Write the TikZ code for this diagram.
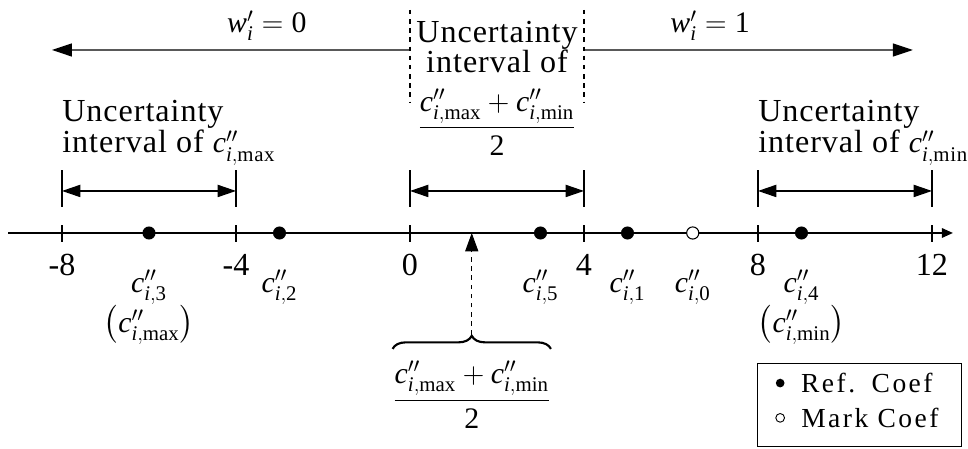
\documentclass[tikz,border=0pt]{standalone}
\usepackage{fix-cm}
\usepackage{amsmath}
\usepackage{fontspec}
\setmainfont{Liberation Serif}
\newfontfamily\notefont[LetterSpace=3]{Liberation Serif}
\newfontfamily\legfont[LetterSpace=9]{Liberation Serif}
\usetikzlibrary{arrows.meta, positioning, decorations.pathreplacing}
\newcommand{\cpp}[1]{\mathit{c}''_{\mathit{i},\text{#1}}}
\newcommand{\wpr}{\mathit{w}'_{\mathit{i}}}
\newcommand{\mth}[1]{{\fontsize{19.5}{20}\selectfont$#1$}}

\begin{document}
\begin{tikzpicture}[
        every node/.style={font=\fontsize{21}{22}\selectfont},
        axis/.style={-{Triangle[length=0.25cm, width=0.22cm]}, line width=0.8pt},
        tick/.style={line width=1.1pt},
        bar/.style={line width=1.1pt},
        span/.style={{Triangle[length=0.42cm, width=0.28cm]}-{Triangle[length=0.42cm, width=0.28cm]}, line width=0.8pt},
        side/.style={-{Triangle[length=0.46cm, width=0.3cm]}, line width=0.8pt},
        guide/.style={dashed, line width=0.7pt},
        refdot/.style={circle, fill, inner sep=0pt, minimum size=0.3cm},
        markdot/.style={circle, draw, fill=white, inner sep=0pt, minimum size=0.28cm, line width=0.7pt},
        coef/.style={anchor=base},
        note/.style={align=left, anchor=base west, inner sep=0pt, font=\notefont\fontsize{21}{17.6}\selectfont},
        brace/.style={decorate, decoration={brace, amplitude=0.3cm}, line width=1.4pt},
        legkey/.style={circle, inner sep=0pt, minimum size=0.2cm},
        legtext/.style={font=\legfont\fontsize{18}{19}\selectfont}
    ]
%
    \useasboundingbox (-9.425,-4.943) rectangle (12.828,5.356);
%
    % Axe
    \coordinate (axl) at (-9.24,0);
    \coordinate (axr) at (12.48,0);
    \draw[axis] (axl) -- (axr);
%
    % Graduations
    \foreach \v/\n in {-8/a, -4/b, 0/c, 4/d, 8/e, 12/f} {
        \coordinate (t\n) at (\v,0);
        \draw[tick] ([yshift=0.18cm]t\n) -- ([yshift=-0.21cm]t\n);
        \node[anchor=base] (n\n) at (\v,-0.966) {\v};
    }
%
    % Coefficients
    \foreach \v/\k in {-6/3, -3/2, 3/5, 5/1, 9/4} {
        \node[refdot] (c\k) at (\v,0) {};
        \node[coef] (l\k) at (\v,-1.36) {\mth{\cpp{\k}}};
    }
    \node[markdot] (c0) at (6.5,0) {};
    \node[coef] (l0) at (6.5,-1.36) {\mth{\cpp{0}}};
    \node[coef] (lmax) at (-6,-2.28) {\mth{\left(\cpp{max}\right)}};
    \node[coef] (lmin) at (9,-2.28) {\mth{\left(\cpp{min}\right)}};
%
    % Intervalles
    \foreach \a/\b in {a/b, c/d, e/f} {
        \draw[bar] ([yshift=0.60cm]t\a) -- ([yshift=1.45cm]t\a);
        \draw[bar] ([yshift=0.60cm]t\b) -- ([yshift=1.45cm]t\b);
        \draw[span] ([yshift=0.966cm]t\a) -- ([yshift=0.966cm]t\b);
    }
    \node[note] (maxtxt) at (-8,1.84) {Uncertainty\\interval of \mth{\cpp{max}}};
    \node[note] (mintxt) at (8,1.84) {Uncertainty\\interval of \mth{\cpp{min}}};
%
    % Zone centrale
    \draw[guide] ([yshift=5.13cm]tc) -- ([yshift=2.99cm]tc);
    \draw[guide] ([yshift=5.13cm]td) -- ([yshift=2.99cm]td);
    \node[align=center, anchor=base, inner sep=0pt, font=\notefont\fontsize{21}{20.2}\selectfont] (midtxt) at (2,3.68) {Uncertainty\\interval of};
    \node[inner sep=0pt] (midfrac) at (2,2.55) {\mth{\dfrac{\cpp{max}+\cpp{min}}{\text{2}}}};
%
    % Poids
    \coordinate (wl) at (-8.23,4.207);
    \coordinate (wr) at (11.56,4.207);
    \draw[side] ([yshift=4.207cm]tc) -- (wl);
    \draw[side] ([yshift=4.207cm]td) -- (wr);
    \node[anchor=base] (w0) at (-3.29,4.60) {\mth{\wpr = \text{0}}};
    \node[anchor=base] (w1) at (6.9,4.60) {\mth{\wpr = \text{1}}};
%
    % Milieu
    \node[inner sep=0pt] (sum) at (1.42,-3.72) {\mth{\dfrac{\cpp{max}+\cpp{min}}{\text{2}}}};
    \draw[brace] ([yshift=0.28cm]sum.north west) -- ([yshift=0.28cm]sum.north east);
    \draw[guide, -{Triangle[length=0.42cm, width=0.3cm]}] ([yshift=0.6cm]sum.north) -- (sum.north |- tc);
%
    % Legende
    \node[draw, line width=0.7pt, minimum width=4.69cm, minimum height=1.91cm, anchor=south east] (legend) at (12.69,-4.92) {};
    \node[legkey, fill] (refkey) at (8.51,-3.45) {};
    \node[legkey, draw, line width=0.6pt] (markkey) at (8.51,-4.25) {};
    \node[legtext, right=0.25cm of refkey] (reftext) {Ref.\hspace{0.6em}Coef};
    \node[legtext, right=0.25cm of markkey] (marktext) {Mark Coef};
%
\end{tikzpicture}
\end{document}
